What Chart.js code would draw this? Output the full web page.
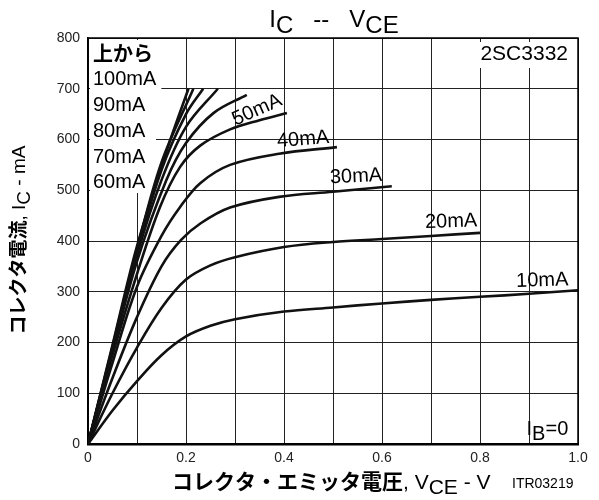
<!DOCTYPE html>
<html>
<head>
<meta charset="utf-8">
<script src="https://cdn.jsdelivr.net/npm/chart.js@4.4.1/dist/chart.umd.min.js"></script>
<style>
  body { margin: 0; background: #fff; }
  #wrap { width: 599px; height: 500px; }
</style>
</head>
<body>
<div id="wrap"><canvas id="icChart"></canvas></div>
<script>
// curve names (base current), one per series
const ibLabels = ['10mA', '20mA', '30mA', '40mA', '50mA', '60mA', '70mA', '80mA', '90mA', '100mA'];

// V_CE (V) and I_C (mA), per base current
const vce10 = [0, 0.05, 0.1, 0.15, 0.2, 0.25, 0.3, 0.4, 0.5, 0.6, 0.7, 0.8, 0.9, 1.0];
const ic10  = [0, 66, 124, 175, 212, 233, 246, 261, 269, 277, 284, 290, 296, 303];
const vce20 = [0, 0.05, 0.1, 0.15, 0.2, 0.25, 0.3, 0.4, 0.5, 0.6, 0.7, 0.8];
const ic20  = [0, 100, 190, 268, 324, 352, 368, 388, 398, 404, 410, 416];
const vce30 = [0, 0.05, 0.1, 0.15, 0.19, 0.23, 0.29, 0.39, 0.5, 0.62];
const ic30  = [0, 130, 250, 350, 402, 435, 466, 487, 497, 508];
const vce40 = [0, 0.05, 0.1, 0.15, 0.188, 0.229, 0.29, 0.39, 0.508];
const ic40  = [0, 160, 310, 410, 467, 514, 550, 572, 585];
const vce50 = [0, 0.05, 0.1, 0.147, 0.188, 0.229, 0.29, 0.35, 0.406];
const ic50  = [0, 175, 335, 467, 546, 588, 620, 638, 652];
const vce60 = [0, 0.05, 0.1, 0.16, 0.2, 0.256, 0.324];
const ic60  = [0, 182, 360, 520, 593, 652, 688];
const vce70 = [0, 0.05, 0.1, 0.15, 0.2, 0.265];
const ic70  = [0, 186, 372, 520, 625, 700];
const vce80 = [0, 0.05, 0.1, 0.15, 0.2, 0.235];
const ic80  = [0, 189, 378, 540, 650, 700];
const vce90 = [0, 0.05, 0.1, 0.15, 0.215];
const ic90  = [0, 192, 384, 555, 700];
const vce100 = [0, 0.05, 0.1, 0.163, 0.205];
const ic100  = [0, 195, 390, 585, 700];

const xTicks = [0, 0.2, 0.4, 0.6, 0.8, 1.0];
const yTicks = [0, 100, 200, 300, 400, 500, 600, 700, 800];

const curves = [
  [vce10, ic10], [vce20, ic20], [vce30, ic30], [vce40, ic40], [vce50, ic50],
  [vce60, ic60], [vce70, ic70], [vce80, ic80], [vce90, ic90], [vce100, ic100]
];

const LAT = '"Liberation Sans", Arial, sans-serif';
const JP = '"Noto Sans CJK JP", sans-serif';

// draws a row of text pieces (text, font, dy) one after another
function richText(c, parts, x, y, align) {
  let w = 0;
  parts.forEach(p => { c.font = p[1]; w += c.measureText(p[0]).width; });
  let cx = align === 'center' ? x - w / 2 : (align === 'right' ? x - w : x);
  c.textAlign = 'left';
  c.textBaseline = 'alphabetic';
  parts.forEach(p => {
    c.font = p[1];
    c.fillText(p[0], cx, y + (p[2] || 0));
    cx += c.measureText(p[0]).width;
  });
}

const textPlugin = {
  id: 'texts',
  beforeDatasetsDraw(chart) {
    const c = chart.ctx;
    const a = chart.chartArea;
    c.save();
    // frame
    c.strokeStyle = '#000';
    c.lineWidth = 1.5;
    c.strokeRect(a.left, a.top, a.right - a.left, a.bottom - a.top);
    // label block top left, on white
    const f = '20px ' + LAT;
    const block = [['100mA', 79], ['90mA', 105], ['80mA', 131], ['70mA', 157], ['60mA', 182]];
    c.fillStyle = '#fff';
    c.fillRect(a.left + 2, a.top + 2, 66, 152);
    c.font = f;
    block.forEach(b => {
      const w = c.measureText(b[0]).width;
      c.fillRect(a.left + 2, b[1] - 11, w + 8, 22);
    });
    c.fillStyle = '#000';
    c.textBaseline = 'middle';
    c.textAlign = 'left';
    c.font = 'bold 20px ' + JP;
    c.fillText('上から', a.left + 5, 53);
    c.font = f;
    block.forEach(b => c.fillText(b[0], a.left + 5, b[1]));
    // part number
    c.font = '21px ' + LAT;
    const pw = c.measureText('2SC3332').width;
    c.fillStyle = '#fff';
    c.fillRect(a.right - pw - 14, a.top + 4, pw + 10, 26);
    c.fillStyle = '#000';
    c.fillText('2SC3332', a.right - pw - 10, a.top + 16);
    c.restore();
  },
  afterDatasetsDraw(chart) {
    const c = chart.ctx;
    const xs = chart.scales.x, ys = chart.scales.y;
    c.save();
    c.fillStyle = '#000';
    c.font = '20px ' + LAT;
    c.textAlign = 'center';
    c.textBaseline = 'middle';
    // curve labels, placed in data units
    const tags = [['50mA', 0.345, 658, -0.42], ['40mA', 0.439, 600, -0.08],
                  ['30mA', 0.547, 527, -0.05], ['20mA', 0.741, 438, -0.03],
                  ['10mA', 0.927, 322, -0.03]];
    tags.forEach(t => {
      c.save();
      c.translate(xs.getPixelForValue(t[1]), ys.getPixelForValue(t[2]));
      c.rotate(t[3]);
      c.fillText(t[0], 0, 0);
      c.restore();
    });
    richText(c, [['I', '20px ' + LAT], ['B', '20px ' + LAT, 5], ['=0', '20px ' + LAT]],
      xs.getPixelForValue(0.895), ys.getPixelForValue(17), 'left');
    // title
    richText(c, [['I', '24px ' + LAT], ['C', '24px ' + LAT, 6], ['   --   ', '24px ' + LAT],
                 ['V', '24px ' + LAT], ['CE', '24px ' + LAT, 6]], 334, 27, 'center');
    // x axis title
    richText(c, [['コレクタ・エミッタ電圧', 'bold 21px ' + JP], [', V', '21px ' + LAT],
                 ['CE', '21px ' + LAT, 5], [' - V', '21px ' + LAT]], 172, 489, 'left');
    c.font = '14px ' + LAT;
    c.textAlign = 'left';
    c.textBaseline = 'alphabetic';
    c.fillText('ITR03219', 512, 488);
    // y axis title
    c.translate(25, 240);
    c.rotate(-Math.PI / 2);
    richText(c, [['コレクタ電流', 'bold 19px ' + JP], [', I', '19px ' + LAT],
                 ['C', '19px ' + LAT, 5], [' - mA', '19px ' + LAT]], 0, 0, 'center');
    c.restore();
  }
};

const ctx = document.getElementById('icChart');
new Chart(ctx, {
  type: 'line',
  data: {
    datasets: curves.map((cv, i) => ({
      label: ibLabels[i],
      data: cv[0].map((v, k) => ({ x: v, y: cv[1][k] })),
      borderColor: '#111',
      borderWidth: 2.6,
      pointRadius: 0,
      fill: false,
      tension: 0.35
    }))
  },
  options: {
    responsive: true,
    maintainAspectRatio: false,
    animation: false,
    layout: { padding: { top: 38, right: 21, bottom: 0, left: 0 } },
    plugins: { legend: { display: false }, tooltip: { enabled: false } },
    scales: {
      x: {
        type: 'linear', min: 0, max: 1,
        afterBuildTicks: s => { s.ticks = [0, 0.1, 0.2, 0.3, 0.4, 0.5, 0.6, 0.7, 0.8, 0.9, 1.0].map(v => ({ value: v })); },
        afterFit: s => { s.height = 56; },
        ticks: {
          autoSkip: false, maxRotation: 0, padding: 6, color: '#222',
          font: { family: LAT, size: 14 },
          callback: v => {
            const hit = xTicks.find(t => Math.abs(t - v) < 1e-6);
            if (hit === undefined) return '';
            return hit === 0 ? '0' : hit.toFixed(1);
          }
        },
        grid: { color: '#222', lineWidth: 1, drawTicks: false },
        border: { color: '#000', width: 2.5 }
      },
      y: {
        min: 0, max: 800,
        afterBuildTicks: s => { s.ticks = yTicks.map(v => ({ value: v })); },
        afterFit: s => { s.width = 88; },
        ticks: { padding: 8, color: '#222', font: { family: LAT, size: 14 } },
        grid: { color: '#222', lineWidth: 1, drawTicks: false },
        border: { color: '#000', width: 1.5 }
      }
    }
  },
  plugins: [textPlugin]
});
</script>
</body>
</html>
